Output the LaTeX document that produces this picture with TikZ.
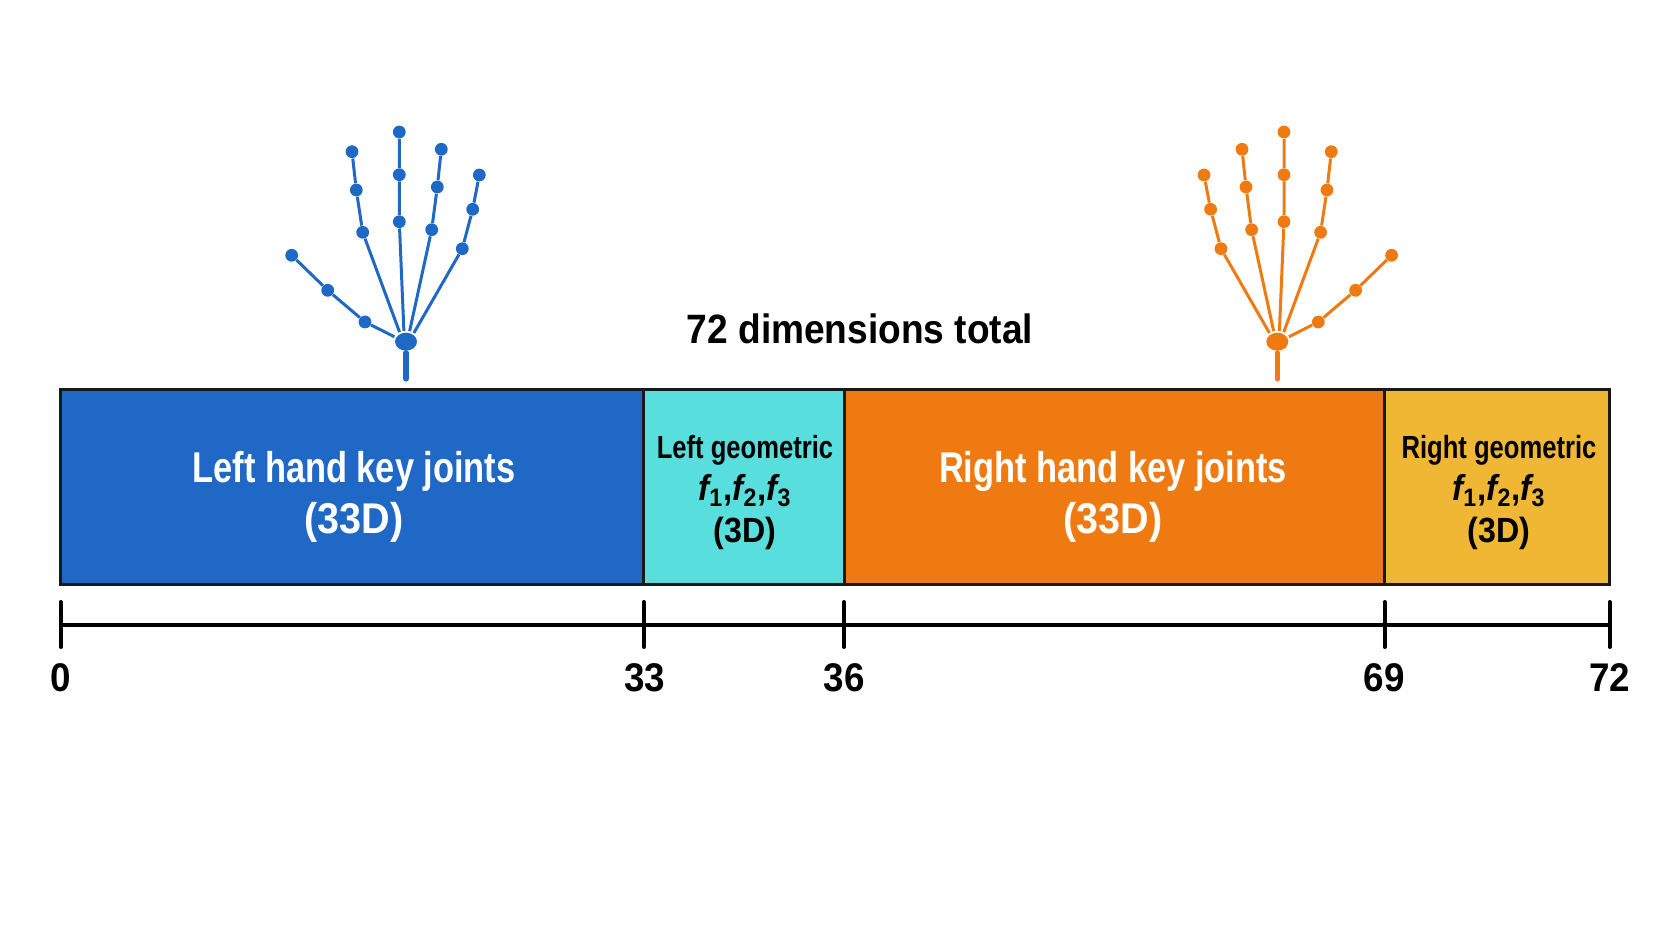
\documentclass[tikz,border=0pt]{standalone}
\usepackage{fontspec}
\setmainfont{Liberation Sans}
\newfontfamily\condfont[FakeStretch=0.8]{Liberation Sans}
\newfontfamily\midfont[FakeStretch=0.92]{Liberation Sans}
\usetikzlibrary{positioning}
\usetikzlibrary{shapes.geometric}
\definecolor{leftblue}{HTML}{2068C6}
\definecolor{leftcyan}{HTML}{58DEDC}
\definecolor{rightorange}{HTML}{F07A12}
\definecolor{rightgold}{HTML}{EFB733}
\tikzset{
	segbar/.style={draw=black!90, line width=1.5pt, outer sep=0pt, inner sep=0pt, minimum height=97.25pt},
	handtext/.style={white, align=center, font=\condfont\bfseries\fontsize{21.5}{25.5}\selectfont},
	geomtext/.style={black, align=center, font=\condfont\bfseries\fontsize{16}{21}\selectfont},
	ticklab/.style={black, font=\midfont\bfseries\fontsize{20}{24}\selectfont},
	tickline/.style={line width=2pt, line cap=round},
	joint/.style={circle, inner sep=0pt, minimum size=6.4pt},
	palm/.style={ellipse, inner sep=0pt, minimum width=11pt, minimum height=9pt, outer sep=1pt, transform shape}
}
\newcommand{\feats}{{\midfont\bfseries\fontsize{18}{21}\selectfont{\itshape f}\textsubscript{1},{\itshape f}\textsubscript{2},{\itshape f}\textsubscript{3}}}
\newcommand{\dimtag}[1]{{\midfont\bfseries #1}}
\newcommand{\geomtag}{{\midfont\bfseries\fontsize{17.5}{21}\selectfont (3D)}}
\newcommand{\handskel}[1]{
	\node[palm, fill=#1] (palm) at (0,0) {};
	\coordinate (wrist) at (0,37.3);
	\draw[#1, line width=2.6pt, line cap=round] (palm.south) -- (wrist);
	\foreach \fing/\ang/\ax/\ay/\bx/\by/\cx/\cy in {
		thumb/157/-41/-19.7/-78.3/-51.4/-114.3/-86.4,
		index/124/-43.3/-109.4/-49.7/-151.7/-54/-190,
		middle/101/-6.7/-120/-6.7/-167/-6.7/-209.7,
		ring/71/25.7/-112/31.3/-154.7/35.3/-192.4,
		pinky/48/56.3/-93/66.7/-132.4/73.3/-166.7}{
		\node[joint, fill=#1] (\fing a) at (\ax,\ay) {};
		\node[joint, fill=#1] (\fing b) at (\bx,\by) {};
		\node[joint, fill=#1] (\fing c) at (\cx,\cy) {};
		\draw[#1, line width=1.5pt] (palm.\ang) -- (\fing a) -- (\fing b) -- (\fing c);
	}
}

\begin{document}
\begin{tikzpicture}[x=0.5pt, y=-0.5pt]
	\useasboundingbox (0,0) rectangle (1672,941);

	% the hands
	\begin{scope}[shift={(406,341.7)}, name prefix=left]
		\handskel{leftblue}
	\end{scope}

	\begin{scope}[shift={(1277.3,341.7)}, xscale=-1, name prefix=right]
		\handskel{rightorange}
	\end{scope}

	\node[font=\bfseries\fontsize{20.5}{24}\selectfont\addfontfeatures{FakeStretch=0.905}] (total) at (860,329) {72 dimensions total};

	% the bar
	\node[segbar, fill=leftblue, minimum width=291.6pt, anchor=north west] (lefthand) at (60.5,389.5) {};
	\node[segbar, fill=leftcyan, minimum width=100.15pt, right=0pt of lefthand] (leftgeom) {};
	\node[segbar, fill=rightorange, minimum width=270.25pt, right=0pt of leftgeom] (righthand) {};
	\node[segbar, fill=rightgold, minimum width=112.5pt, right=0pt of righthand] (rightgeom) {};

	\node[handtext] (lefthandlab) at (354,497) {Left hand key joints\\\dimtag{(33D)}};
	\node[geomtext] (leftgeomlab) at (745,493) {Left geometric\\\feats\\\geomtag};
	\node[handtext] (righthandlab) at (1113,497) {Right hand key joints\\\dimtag{(33D)}};
	\node[geomtext] (rightgeomlab) at (1499,493) {Right geometric\\\feats\\\geomtag};

	% the axis under it
	\foreach \pos/\lpos/\val in {60.5/60.5/0, 643.7/645/33, 844/844/36, 1384.5/1384/69, 1609.5/1609.5/72}{
		\coordinate (top\val) at (\pos,602);
		\coordinate (mid\val) at (\pos,625);
		\coordinate (bot\val) at (\pos,647);
		\draw[tickline] (top\val) -- (bot\val);
		\node[ticklab] (lab\val) at (\lpos,678) {\val};
	}
	\draw[line width=2pt] (mid0) -- (mid72);
\end{tikzpicture}
\end{document}
